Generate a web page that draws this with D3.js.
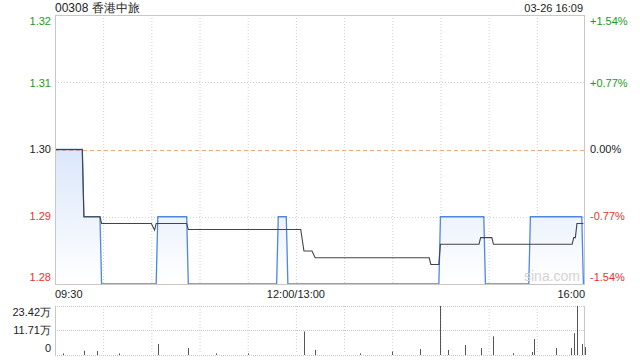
<!DOCTYPE html>
<html><head><meta charset="utf-8">
<script src="https://cdn.jsdelivr.net/npm/d3@7"></script>
<style>body{margin:0;background:#fff}svg{display:block;font-family:"Liberation Sans",Arial,sans-serif}</style>
</head><body><svg id="c" width="640" height="360"></svg>
<script>
const title = "00308 香港中旅";
const stamp = "03-26 16:09";
const prevClose = 1.30;
const priceTicks = [1.32, 1.31, 1.30, 1.29, 1.28];
const pctTicks = ["+1.54%", "+0.77%", "0.00%", "-0.77%", "-1.54%"];
const xTickLabels = ["09:30", "12:00/13:00", "16:00"];
const volTickLabels = ["23.42万", "11.71万", "0"];
const volMax = 234200;

const priceTimes = ["09:30","09:47","09:48","09:58","09:59","10:33","10:34","10:52","10:53","11:48","11:49","11:54","11:55","14:29","14:30","14:57","14:58","15:25","15:26","15:58","15:59"];
const priceValues = [1.30,1.30,1.29,1.29,1.28,1.28,1.29,1.29,1.28,1.28,1.29,1.29,1.28,1.28,1.29,1.29,1.28,1.28,1.29,1.29,1.28];

const avgTimes = ["09:30","09:47","09:48","09:58","09:59","10:30","10:32","10:33","10:52","10:53","13:03","13:05","13:10","13:12","14:23","14:24","14:29","14:30","14:54","14:55","15:02","15:03","15:52","15:53","15:54","15:55","15:59"];
const avgValues = [1.30,1.30,1.29,1.29,1.289,1.289,1.288,1.289,1.289,1.2881,1.2881,1.2849,1.2849,1.2839,1.2839,1.2829,1.2829,1.2859,1.2859,1.2869,1.2869,1.2859,1.2859,1.2869,1.2869,1.289,1.289];

const volTimes = ["09:35","09:48","09:56","10:10","10:34","10:53","11:10","11:30","13:05","13:12","13:40","14:00","14:17","14:30","14:35","14:45","14:55","15:03","15:15","15:27","15:28","15:42","15:51","15:53","15:55","15:58","16:00"];
const volValues = [3000,16000,15000,3000,49000,29000,3000,3000,110000,20000,3000,12000,24000,234200,20000,44000,29000,86000,4000,10000,73000,29000,29000,102000,234200,49000,34000];

function toIdx(t){
  const [h,m] = t.split(":").map(Number);
  const mins = h*60+m;
  if (mins <= 12*60) return mins - (9*60+30);
  return 150 + mins - 13*60;
}

const svg = d3.select("#c");
const L = 55, R = 585, T = 15, B = 284;
const VT = 306, VB = 354;
const x = d3.scaleLinear().domain([0,330]).range([L,R]);
const y = d3.scaleLinear().domain([1.28,1.32]).range([B,T]);
const yv = d3.scaleLinear().domain([0,volMax]).range([VB,VT]);

const defs = svg.append("defs");
const g = defs.append("linearGradient").attr("id","fillg").attr("gradientUnits","userSpaceOnUse")
  .attr("x1",0).attr("y1",y(1.30)).attr("x2",0).attr("y2",B);
g.append("stop").attr("offset","0").attr("stop-color","#dbe7fa");
g.append("stop").attr("offset","1").attr("stop-color","#ffffff");

// grid
const grid = svg.append("g");
d3.range(1,11).forEach(i=>{
  grid.append("line").attr("x1",x(i*30)+0.5).attr("x2",x(i*30)+0.5).attr("y1",T).attr("y2",B)
    .attr("stroke","#cfcfcf").attr("stroke-dasharray","1,2");
  grid.append("line").attr("x1",x(i*30)+0.5).attr("x2",x(i*30)+0.5).attr("y1",VT).attr("y2",VB)
    .attr("stroke","#cfcfcf").attr("stroke-dasharray","1,2");
});
[1.31,1.29].forEach(v=>{
  grid.append("line").attr("x1",L).attr("x2",R).attr("y1",Math.round(y(v))+0.5).attr("y2",Math.round(y(v))+0.5)
    .attr("stroke","#cfcfcf").attr("stroke-dasharray","1,2");
});

// area + price line
const pts = priceTimes.map((t,i)=>[toIdx(t), priceValues[i]]);
svg.append("path").datum(pts)
  .attr("d", d3.area().x(d=>x(d[0])).y0(B).y1(d=>y(d[1])))
  .attr("fill","url(#fillg)");

svg.append("line").attr("x1",L).attr("x2",R).attr("y1",Math.round(y(prevClose))+0.5).attr("y2",Math.round(y(prevClose))+0.5)
  .attr("stroke","#f0a878").attr("stroke-dasharray","4,3");

svg.append("path").datum(pts)
  .attr("d", d3.line().x(d=>x(d[0])).y(d=>y(d[1])))
  .attr("fill","none").attr("stroke","#4f86e0").attr("stroke-width",1.3);

const apts = avgTimes.map((t,i)=>[toIdx(t), avgValues[i]]);
svg.append("path").datum(apts)
  .attr("d", d3.line().x(d=>x(d[0])).y(d=>y(d[1])))
  .attr("fill","none").attr("stroke","#444").attr("stroke-width",1.1);

// borders
const bc = "#c8c8c8";
svg.append("rect").attr("x",L+0.5).attr("y",T+0.5).attr("width",R-L-1).attr("height",B-T).attr("fill","none").attr("stroke",bc);
svg.append("line").attr("x1",L+0.5).attr("x2",L+0.5).attr("y1",VT).attr("y2",VB+1).attr("stroke",bc);
svg.append("line").attr("x1",R-0.5).attr("x2",R-0.5).attr("y1",VT).attr("y2",VB+1).attr("stroke",bc);
[VT, (VT+VB)/2, VB+1].forEach(v=>{
  svg.append("line").attr("x1",L).attr("x2",R).attr("y1",Math.round(v)+0.5).attr("y2",Math.round(v)+0.5)
    .attr("stroke","#c8c8c8").attr("stroke-dasharray","1,1");
});

// volume bars
svg.append("g").selectAll("line").data(volTimes.map((t,i)=>[toIdx(t),volValues[i]])).join("line")
  .attr("x1",d=>Math.round(x(d[0]))+0.5).attr("x2",d=>Math.round(x(d[0]))+0.5)
  .attr("y1",VB+1).attr("y2",d=>yv(d[1]))
  .attr("stroke","#555").attr("stroke-width",1);

// watermark
svg.append("text").attr("x",552).attr("y",281).attr("text-anchor","middle")
  .attr("font-size",14).attr("fill","#d4d4d4").text("sina.com");

// labels
const colorFor = (i)=> i<2 ? "#1a9a1a" : (i===2 ? "#222" : "#e8322e");
const labY = [21, 83, 149, 216, 277];
priceTicks.forEach((v,i)=>{
  svg.append("text").attr("x",51).attr("y",labY[i]).attr("dy","0.35em").attr("text-anchor","end")
    .attr("font-size",11).attr("fill",colorFor(i)).text(v.toFixed(2));
  svg.append("text").attr("x",590).attr("y",labY[i]).attr("dy","0.35em").attr("text-anchor","start")
    .attr("font-size",11).attr("fill",colorFor(i)).text(pctTicks[i]);
});
svg.append("text").attr("x",55).attr("y",12).attr("font-size",12).attr("fill","#222").text(title);
svg.append("text").attr("x",583).attr("y",12).attr("text-anchor","end").attr("font-size",11).attr("fill","#222").text(stamp);

svg.append("text").attr("x",L).attr("y",298).attr("text-anchor","start").attr("font-size",11).attr("fill","#222").text(xTickLabels[0]);
svg.append("text").attr("x",x(150)).attr("y",298).attr("text-anchor","middle").attr("font-size",11).attr("fill","#222").text(xTickLabels[1]);
svg.append("text").attr("x",R).attr("y",298).attr("text-anchor","end").attr("font-size",11).attr("fill","#222").text(xTickLabels[2]);

[312, 330, 348].forEach((yy,i)=>{
  svg.append("text").attr("x",51).attr("y",yy).attr("dy","0.35em").attr("text-anchor","end")
    .attr("font-size",11).attr("fill","#222").text(volTickLabels[i]);
});
</script></body></html>
